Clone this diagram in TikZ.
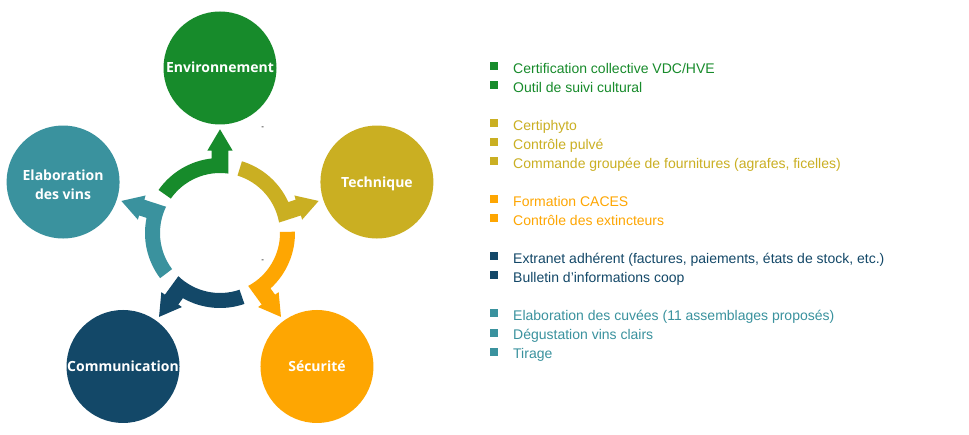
\documentclass[tikz,border=0pt]{standalone}
\usepackage{fontspec}
\setmainfont{Liberation Sans}
\newfontfamily\labelfont{Open Sans}
\definecolor{cgreen}{HTML}{178B2B}
\definecolor{cyellow}{HTML}{CAAF22}
\definecolor{corange}{HTML}{FEA602}
\definecolor{cnavy}{HTML}{134868}
\definecolor{cteal}{HTML}{3A929E}
\tikzset{
  topic/.style={circle, minimum size=113pt, inner sep=0pt, fill=#1, text=white,
    font=\labelfont\bfseries\fontsize{14}{18.6}\selectfont, align=center,
    text height=10pt, text depth=0pt},
  item/.style={anchor=base west, inner sep=0pt, font=\fontsize{14}{16}\selectfont, text=#1},
  bul/.style={fill=#1, minimum size=8pt, inner sep=0pt},
  mark dash/.style={inner sep=0pt, font=\fontsize{8}{9}\selectfont}
}
\begin{document}
\begin{tikzpicture}[x=1pt,y=1pt]
\useasboundingbox (0,0) rectangle (969,434);
\fill[white] (0,0) rectangle (969,434);
\coordinate (c) at (220,201);
% circular arrows
\begin{scope}[shift={(c)}]
\foreach \col [count=\k from 0] in {cgreen,cyellow,corange,cnavy,cteal}
  \fill[\col, rotate=-72*\k] (145:60) arc[start angle=145, end angle=82.05, radius=60]
    -- (8.3,82.3) -- (12.7,82.3) -- (0,103.7) -- (-12.7,82.3) -- (-8.3,82.3)
    -- (96.35:75) arc[start angle=96.35, end angle=145, radius=75] -- cycle;
\end{scope}
% topic circles
\node[topic=cgreen]  (env)  at ([shift={(90:165)}]c)  {Environnement};
\node[topic=cyellow] (tech) at ([shift={(18:165)}]c)  {Technique};
\node[topic=corange] (secu) at ([shift={(-54:165)}]c) {Sécurité};
\node[topic=cnavy]   (comm) at ([shift={(-126:165)}]c) {Communication};
\node[topic=cteal, text height=34pt] (elab) at ([shift={(162:165)}]c) {Elaboration\\des vins};
% small dashes
\node[mark dash] (m1) at (262.7,305.7) {-};
\node[mark dash] (m2) at (262.7,172.3) {-};
% list
\node[bul=cgreen] (b1) at (494,367.5) {};
\node[item=cgreen] (i1) at (513,360.7) {Certification collective VDC/HVE};
\node[bul=cgreen] (b2) at (494,348.5) {};
\node[item=cgreen] (i2) at (513,341.7) {Outil de suivi cultural};
\node[bul=cyellow] (b3) at (494,310.5) {};
\node[item=cyellow] (i3) at (513,303.7) {Certiphyto};
\node[bul=cyellow] (b4) at (494,291.5) {};
\node[item=cyellow] (i4) at (513,284.7) {Contrôle pulvé};
\node[bul=cyellow] (b5) at (494,272.5) {};
\node[item=cyellow] (i5) at (513,265.7) {Commande groupée de fournitures (agrafes, ficelles)};
\node[bul=corange] (b6) at (494,234.5) {};
\node[item=corange] (i6) at (513,227.7) {Formation CACES};
\node[bul=corange] (b7) at (494,215.5) {};
\node[item=corange] (i7) at (513,208.7) {Contrôle des extincteurs};
\node[bul=cnavy] (b8) at (494,177.5) {};
\node[item=cnavy] (i8) at (513,170.7) {Extranet adhérent (factures, paiements, états de stock, etc.)};
\node[bul=cnavy] (b9) at (494,158.5) {};
\node[item=cnavy] (i9) at (513,151.7) {Bulletin d’informations coop};
\node[bul=cteal] (b10) at (494,120.5) {};
\node[item=cteal] (i10) at (513,113.7) {Elaboration des cuvées (11 assemblages proposés)};
\node[bul=cteal] (b11) at (494,101.5) {};
\node[item=cteal] (i11) at (513,94.7) {Dégustation vins clairs};
\node[bul=cteal] (b12) at (494,82.5) {};
\node[item=cteal] (i12) at (513,75.7) {Tirage};
\end{tikzpicture}
\end{document}
